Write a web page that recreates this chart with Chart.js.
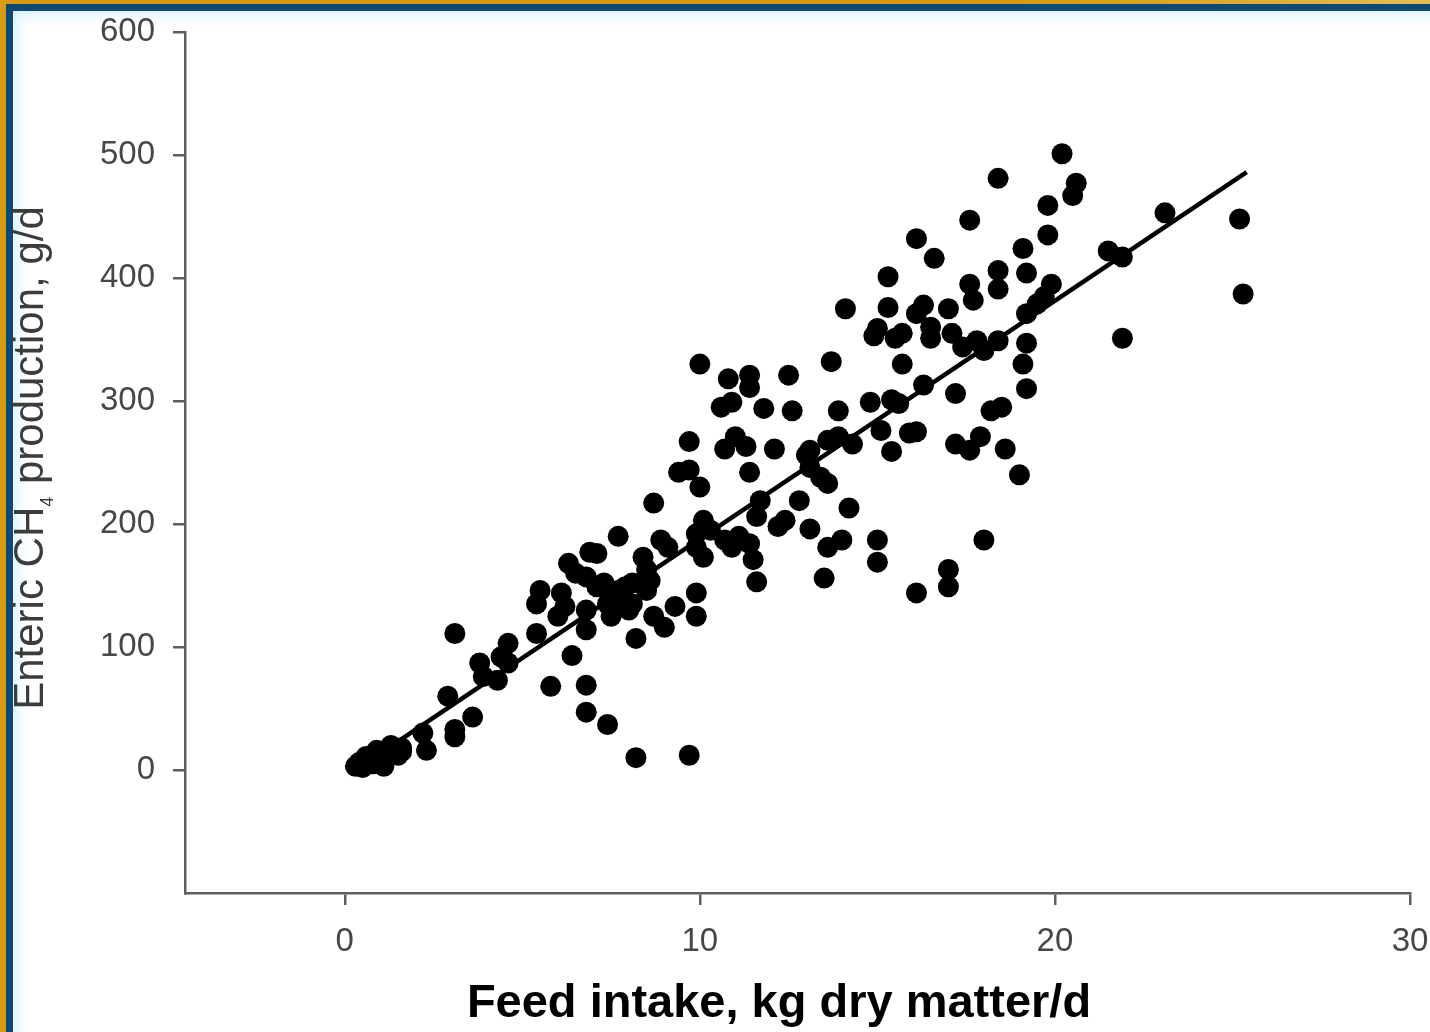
<!DOCTYPE html>
<html>
<head>
<meta charset="utf-8">
<script src="https://cdn.jsdelivr.net/npm/chart.js@4.4.1/dist/chart.umd.min.js"></script>
<style>
  html, body { margin: 0; padding: 0; width: 1430px; height: 1032px; overflow: hidden; background: #fff; }
  .gold-top { position: absolute; left: 0; top: 0; width: 1430px; height: 4px;
    background: linear-gradient(to right, #d6980c 0%, #d89c10 75%, #e6bc58 100%); }
  .gold-left { position: absolute; left: 0; top: 0; width: 6px; height: 1032px; background: #d89c14; }
  .blue-top { position: absolute; left: 6px; top: 4px; width: 1424px; height: 7px; background: #0c4a73; }
  .blue-left { position: absolute; left: 6px; top: 4px; width: 7px; height: 1028px; background: #0c4a73; }
  .glow { position: absolute; left: 13px; top: 11px; width: 1417px; height: 1021px;
    box-shadow: inset 10px 10px 16px -8px rgba(200, 236, 250, 0.9); }
  #wrap { position: absolute; left: 0; top: 0; width: 1430px; height: 1032px; }
</style>
</head>
<body>
<div class="gold-top"></div>
<div class="gold-left"></div>
<div class="blue-top"></div>
<div class="blue-left"></div>
<div class="glow"></div>
<div id="wrap"><canvas id="chart" width="1430" height="1032"></canvas></div>
<script>
// feed intake (kg DM/d) and enteric CH4 (g/d)
const feedIntake = [
  20.2, 18.4, 20.6, 20.5, 19.8, 17.6, 16.1, 16.6, 19.8, 19.1, 23.1, 25.2, 21.5, 21.9, 25.3,
  18.4, 18.4, 19.2, 19.9, 17.6, 17.7, 16.3, 16.1, 16.5, 16.5, 17.0, 15.7, 15.7, 17.1, 17.4,
  17.8, 18.0, 18.4, 19.2, 19.5, 19.7, 19.2, 19.1, 19.2, 21.9, 16.3, 17.2, 15.6, 18.2, 18.5,
  15.9, 16.1, 17.2, 17.6, 17.9, 18.6, 10.0, 10.8, 11.4, 11.4, 12.5, 13.7, 14.9, 15.5, 10.6,
  10.9, 11.8, 12.6, 13.9, 14.8, 15.4, 9.7, 10.7, 11.0, 11.3, 12.1, 13.1, 13.6, 13.0, 13.9,
  14.3, 13.1, 13.4, 13.6, 15.4, 15.1, 19.0, 9.4, 9.7, 10.0, 11.4, 8.7, 11.7, 11.6, 12.8,
  14.2, 12.2, 12.4, 13.1, 13.6, 14.0, 15.0, 15.0, 18.0, 17.0, 17.0, 16.1, 13.5, 11.6, 7.7,
  8.9, 9.1, 10.1, 10.3, 9.9, 9.9, 10.1, 10.7, 11.1, 11.4, 11.5, 10.9, 8.4, 8.5, 8.1,
  7.7, 7.3, 7.4, 7.8, 9.9, 8.7, 9.3, 9.9, 7.1, 6.9, 6.3, 6.5, 6.8, 5.5, 5.4,
  6.1, 6.2, 6.0, 6.8, 7.1, 7.6, 7.9, 8.1, 8.5, 8.6, 6.8, 7.5, 8.0, 9.0, 8.2,
  3.1, 5.4, 4.6, 4.4, 3.8, 3.9, 4.6, 6.4, 5.8, 6.8, 4.3, 2.9, 6.8, 7.4, 3.6,
  3.1, 3.1, 2.2, 2.3, 8.2, 9.7, 15.3, 14.1, 15.3, 15.0,
  0.3, 0.4, 0.5, 0.7, 0.8, 0.9, 1.0, 1.1, 1.2, 1.3, 1.5, 1.6, 0.6, 0.9, 1.3, 1.1, 1.6
];
const methane = [
  501, 481, 477, 467, 459, 447, 432, 416, 435, 424, 453, 448, 422, 417, 387,
  406, 391, 404, 395, 395, 382, 378, 371, 360, 351, 375, 355, 330, 355, 344,
  349, 341, 349, 371, 379, 385, 347, 330, 310, 351, 313, 306, 298, 292, 295,
  274, 275, 265, 260, 271, 261, 330, 318, 321, 311, 321, 332, 353, 351, 295,
  299, 294, 292, 292, 299, 301, 267, 261, 271, 263, 261, 260, 268, 256, 271,
  265, 246, 238, 233, 259, 276, 240, 242, 244, 230, 242, 217, 219, 206, 219,
  213, 198, 203, 196, 181, 187, 187, 169, 187, 163, 149, 144, 156, 153, 190,
  187, 181, 203, 195, 192, 181, 173, 187, 190, 184, 171, 181, 173, 163, 152,
  146, 152, 135, 133, 144, 125, 133, 125, 176, 177, 168, 160, 157, 146, 135,
  144, 133, 125, 130, 149, 141, 149, 135, 146, 154, 114, 125, 130, 116, 107,
  111, 111, 103, 92, 87, 76, 87, 93, 68, 69, 73, 60, 47, 37, 43,
  33, 27, 30, 16, 10, 12, 401, 375, 376, 359,
  3, 6, 2, 8, 5, 11, 7, 14, 10, 16, 12, 18, 11, 16, 20, 3, 15
];

// fitted regression line end points
const fitX = [0.4, 25.4];
const fitY = [2, 486];

const xTicks = [0, 10, 20, 30];
const yTicks = [0, 100, 200, 300, 400, 500, 600];

const xTitle = 'Feed intake, kg dry matter/d';
const yTitleParts = ['Enteric CH', '4', ' production, g/d'];

const FONT = '"Liberation Sans", Arial, Helvetica, sans-serif';

const axisTitles = {
    id: 'axisTitles',
    afterDraw(chart) {
        const c = chart.ctx;
        c.save();
        c.fillStyle = '#000';
        c.font = 'bold 47px ' + FONT;
        c.textAlign = 'center';
        c.textBaseline = 'alphabetic';
        c.fillText(xTitle, 779, 1017);

        // rotated y title with subscript 4
        const mainFont = '42px ' + FONT;
        const subFont = '18px ' + FONT;
        c.font = mainFont;
        const w0 = c.measureText(yTitleParts[0]).width;
        const w2 = c.measureText(yTitleParts[2]).width;
        c.font = subFont;
        const w1 = c.measureText(yTitleParts[1]).width + 1;
        const total = w0 + w1 + w2;
        c.translate(43, 458);
        c.rotate(-Math.PI / 2);
        c.textAlign = 'left';
        c.fillStyle = '#3c3c3c';
        let x = -total / 2;
        c.font = mainFont;
        c.fillText(yTitleParts[0], x, 0);
        x += w0;
        c.font = subFont;
        c.fillText(yTitleParts[1], x, 10);
        x += w1;
        c.font = mainFont;
        c.fillText(yTitleParts[2], x, 0);
        c.restore();
    }
};

const ctx = document.getElementById('chart').getContext('2d');
new Chart(ctx, {
    type: 'scatter',
    data: {
        datasets: [
            {
                type: 'line',
                data: fitX.map((x, i) => ({ x: x, y: fitY[i] })),
                borderColor: '#000',
                borderWidth: 4.5,
                pointRadius: 0,
                fill: false,
                order: 0
            },
            {
                data: feedIntake.map((x, i) => ({ x: x, y: methane[i] })),
                backgroundColor: '#000',
                borderWidth: 0,
                pointRadius: 10.5,
                pointHoverRadius: 10.5,
                order: 1
            }
        ]
    },
    options: {
        responsive: false,
        animation: false,
        events: [],
        layout: { padding: { top: 32, right: 20, left: 0, bottom: 0 } },
        plugins: {
            legend: { display: false },
            tooltip: { enabled: false }
        },
        scales: {
            x: {
                type: 'linear',
                min: -4.5,
                max: 30,
                afterBuildTicks: s => { s.ticks = xTicks.map(v => ({ value: v })); },
                afterFit: s => { s.height = 139; s.paddingLeft = 0; s.paddingRight = 0; },
                grid: { drawOnChartArea: false, color: '#5e5e5e', lineWidth: 2.5, tickLength: 12 },
                border: { color: '#5e5e5e', width: 2.5 },
                ticks: { color: '#474747', font: { family: FONT, size: 33 }, padding: 17, maxRotation: 0, autoSkip: false }
            },
            y: {
                type: 'linear',
                min: -100,
                max: 600,
                afterBuildTicks: s => { s.ticks = yTicks.map(v => ({ value: v })); },
                afterFit: s => { s.width = 185; s.paddingTop = 0; s.paddingBottom = 0; },
                grid: { drawOnChartArea: false, color: '#5e5e5e', lineWidth: 2.5, tickLength: 12 },
                border: { color: '#5e5e5e', width: 2.5 },
                ticks: { color: '#474747', font: { family: FONT, size: 33 }, padding: 18, autoSkip: false }
            }
        }
    },
    plugins: [axisTitles]
});
</script>
</body>
</html>
